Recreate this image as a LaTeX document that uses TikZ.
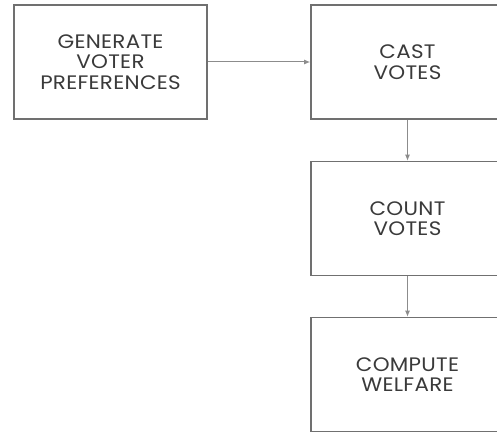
\documentclass[tikz,border=0pt]{standalone}
\usepackage{fontspec}
\setmainfont[FakeStretch=1.1,LetterSpace=1.5]{Poppins}
\usetikzlibrary{arrows.meta}
\definecolor{boxgray}{HTML}{707070}
\definecolor{linegray}{HTML}{8C8C8C}
\definecolor{textgray}{HTML}{3A3A3A}
\tikzset{
  stage/.style={draw=boxgray,line width=1.6pt,fill=white,minimum width=193pt,minimum height=114pt,
    align=center,text=textgray,font=\fontsize{19.5}{20.5}\selectfont,inner sep=0pt},
  flow/.style={draw=linegray,line width=1pt,-{Latex[length=6pt,width=5pt]}}
}
\begin{document}
\begin{tikzpicture}[x=1pt,y=1pt]
\useasboundingbox (0,0) rectangle (497,-433);
\begin{scope}
\clip (0,0) rectangle (497,-433);
\node[stage] (gen) at (110.5,-62) {GENERATE\\VOTER\\PREFERENCES};
\node[stage] (cast) at (407.5,-62) {CAST\\VOTES};
\node[stage] (count) at (407.5,-218.5) {COUNT\\VOTES};
\node[stage] (welfare) at (407.5,-374.5) {COMPUTE\\WELFARE};

\draw[flow] (gen)--(cast);
\draw[flow] (cast)--(count);
\draw[flow] (count)--(welfare);
\end{scope}
\end{tikzpicture}
\end{document}
